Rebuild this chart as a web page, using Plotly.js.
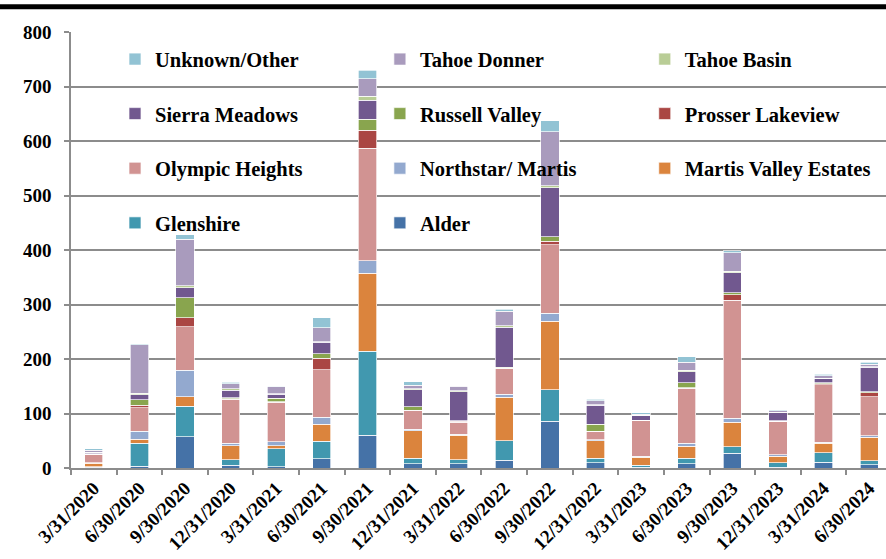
<!DOCTYPE html>
<html>
<head>
<meta charset="utf-8">
<script src="https://cdn.plot.ly/plotly-3.0.1.min.js"></script>
<style>
html,body{margin:0;padding:0;background:#fff;}
#chart{width:886px;height:559px;}
</style>
</head>
<body>
<div id="chart"></div>
<script>
const dates = ['3/31/2020','6/30/2020','9/30/2020','12/31/2020','3/31/2021','6/30/2021','9/30/2021','12/31/2021','3/31/2022','6/30/2022','9/30/2022','12/31/2022','3/31/2023','6/30/2023','9/30/2023','12/31/2023','3/31/2024','6/30/2024'];

const alder        = [1, 3, 57, 5, 2, 17, 60, 8, 8, 14, 86, 10, 1, 8, 27, 1, 11, 6];
const glenshire    = [1, 42, 56, 10, 33, 32, 154, 10, 7, 36, 58, 8, 4, 10, 12, 9, 17, 7];
const martisValley = [7, 8, 18, 26, 6, 31, 143, 50, 45, 80, 125, 32, 15, 22, 45, 12, 17, 43];
const northstar    = [1, 14, 48, 4, 7, 13, 23, 3, 2, 5, 15, 2, 2, 5, 7, 2, 2, 3];
const olympic      = [15, 44, 80, 81, 73, 87, 207, 34, 22, 47, 126, 15, 66, 101, 217, 62, 106, 72];
const prosser      = [0, 4, 17, 1, 1, 21, 33, 1, 2, 1, 6, 0, 0, 1, 10, 0, 2, 7];
const russell      = [1, 10, 36, 2, 6, 9, 20, 6, 1, 2, 8, 13, 0, 9, 4, 1, 1, 2];
const sierra       = [2, 9, 19, 14, 7, 21, 35, 32, 53, 73, 90, 35, 8, 21, 36, 14, 8, 45];
const tahoeBasin   = [1, 3, 3, 2, 1, 1, 7, 1, 2, 3, 4, 1, 1, 2, 3, 1, 1, 1];
const tahoeDonner  = [4, 89, 86, 10, 13, 25, 32, 7, 8, 27, 99, 7, 2, 15, 34, 3, 4, 4];
const unknownOther = [2, 2, 8, 2, 1, 19, 16, 6, 1, 3, 20, 3, 2, 10, 4, 2, 3, 4];

const seriesNames  = ['Alder','Glenshire','Martis Valley Estates','Northstar/ Martis','Olympic Heights','Prosser Lakeview','Russell Valley','Sierra Meadows','Tahoe Basin','Tahoe Donner','Unknown/Other'];
const seriesValues = [alder, glenshire, martisValley, northstar, olympic, prosser, russell, sierra, tahoeBasin, tahoeDonner, unknownOther];
const seriesColors = ['#4572A7','#4198AF','#DB843D','#93A9CF','#D19392','#AA4643','#89A54E','#71588F','#B9CD96','#A99BBD','#92C3D4'];

// legend grid cell (row, column) of each series, as in the reference's 3-column legend
const legendRow = [3, 3, 2, 2, 2, 1, 1, 1, 0, 0, 0];
const legendCol = [1, 0, 2, 1, 0, 2, 1, 0, 2, 1, 0];

const colX = [0.054, 0.379, 0.704];
const rowY = [0.9374, 0.8124, 0.6872, 0.5619];

const font = {family: '"Liberation Serif", "Times New Roman", serif', size: 19, color: '#000', weight: 'bold'};
const legFont = {family: '"Liberation Serif", "Times New Roman", serif', size: 20.5, color: '#000', weight: 'bold'};

const layout = {
  width: 886, height: 559,
  margin: {l: 71, r: 0, t: 32, b: 91},
  paper_bgcolor: '#fff', plot_bgcolor: '#fff',
  barmode: 'stack',
  bargap: 0.6,
  font: font,
  showlegend: true,
  xaxis: {
    type: 'category',
    range: [-0.5, 17.37],
    tickangle: -45,
    tickson: 'boundaries',
    ticks: 'outside', ticklen: 5, tickcolor: '#8c8c8c', tickwidth: 1.5,
    showline: true, linecolor: '#8c8c8c', linewidth: 1.5,
    showgrid: false,
    tickfont: font,
    fixedrange: true
  },
  yaxis: {
    range: [0, 800], dtick: 100, tick0: 0,
    ticks: 'outside', ticklen: 5, tickcolor: '#8c8c8c', tickwidth: 1.5,
    showline: true, linecolor: '#8c8c8c', linewidth: 1.5,
    showgrid: true, gridcolor: '#8c8c8c', gridwidth: 1.6,
    zeroline: false,
    tickfont: font,
    ticklabelstandoff: 9,
    fixedrange: true
  },
  shapes: [{type: 'line', xref: 'paper', yref: 'paper', x0: -0.1, x1: 1.1, y0: 1.058, y1: 1.058,
            line: {color: '#000', width: 5}}]
};

const traces = seriesNames.map((n, i) => {
  const id = i === 0 ? 'legend' : 'legend' + (i + 1);
  layout[id] = {
    orientation: 'v', x: colX[legendCol[i]], xanchor: 'left',
    y: rowY[legendRow[i]], yanchor: 'middle',
    font: legFont, bgcolor: 'rgba(0,0,0,0)', borderwidth: 0,
    itemclick: false, itemdoubleclick: false
  };
  return {
    type: 'bar',
    name: n,
    x: dates,
    y: seriesValues[i],
    legend: id,
    marker: {color: seriesColors[i], line: {color: 'rgba(255,255,255,0.85)', width: 0.8}},
    hoverinfo: 'name+y'
  };
});

Plotly.newPlot('chart', traces, layout, {displayModeBar: false});
</script>
</body>
</html>
